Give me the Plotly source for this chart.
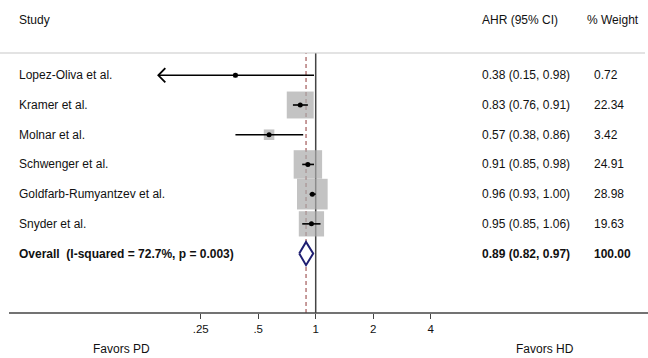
import math
import plotly.graph_objects as go

studies = ["Lopez-Oliva et al.", "Kramer et al.", "Molnar et al.", "Schwenger et al.",
           "Goldfarb-Rumyantzev et al.", "Snyder et al."]
ahr = [0.38, 0.83, 0.57, 0.91, 0.96, 0.95]
ci_lo = [0.15, 0.76, 0.38, 0.85, 0.93, 0.85]
ci_hi = [0.98, 0.91, 0.86, 0.98, 1.00, 1.06]
weights = [0.72, 22.34, 3.42, 24.91, 28.98, 19.63]
overall_label = "Overall  (I-squared = 72.7%, p = 0.003)"
overall_est, overall_lo, overall_hi = 0.89, 0.82, 0.97
overall_weight = 100.00
tick_vals = [0.25, 0.5, 1, 2, 4]
tick_text = [".25", ".5", "1", "2", "4"]
arrow_left = [True, False, False, False, False, False]
headers = ["Study", "AHR (95% CI)", "% Weight"]
favors = ["Favors PD", "Favors HD"]

W, H = 648, 358
FONT = "Liberation Sans, Arial, sans-serif"
TOP, BOT = 53, 45
PLOT_H = H - TOP - BOT
rows = list(range(len(studies)))
overall_row = len(studies)

def py(pix):  # page pixel y -> paper y
    return (H - BOT - pix) / PLOT_H

fig = go.Figure()

# boxes (area proportional to weight)
fig.add_trace(go.Scatter(
    x=ahr, y=rows, mode="markers",
    marker=dict(symbol="square", size=[5.7 * math.sqrt(w) for w in weights],
                color="#a9a9a9", line=dict(width=0)),
    hoverinfo="skip", showlegend=False))

# CI lines
cx, cy = [], []
for i in rows:
    cx += [ci_lo[i], ci_hi[i], None]
    cy += [i, i, None]
fig.add_trace(go.Scatter(x=cx, y=cy, mode="lines", line=dict(color="black", width=1.6),
                         hoverinfo="skip", showlegend=False))

# arrows for CIs clipped at left
ax_, ay_ = [], []
for i in rows:
    if arrow_left[i]:
        f = 2 ** (7 / 57.5)
        ax_ += [ci_lo[i] * f, ci_lo[i], ci_lo[i] * f, None]
        ay_ += [i - 0.24, i, i + 0.24, None]
fig.add_trace(go.Scatter(x=ax_, y=ay_, mode="lines", line=dict(color="black", width=1.8),
                         hoverinfo="skip", showlegend=False))

# point estimates
fig.add_trace(go.Scatter(x=ahr, y=rows, mode="markers",
                         marker=dict(symbol="circle", size=5, color="black"),
                         hoverinfo="skip", showlegend=False))

# overall diamond
dh = 0.39
fig.add_trace(go.Scatter(
    x=[overall_lo, overall_est, overall_hi, overall_est, overall_lo],
    y=[overall_row, overall_row - dh, overall_row, overall_row + dh, overall_row],
    mode="lines", fill="toself", fillcolor="white",
    line=dict(color="#1f1f72", width=2), hoverinfo="skip", showlegend=False))

shapes = [
    dict(type="line", xref="x", yref="paper", x0=1, x1=1, y0=0, y1=1,
         line=dict(color="#444444", width=1.5), layer="below"),
    dict(type="line", xref="x", yref="paper", x0=overall_est, x1=overall_est, y0=0, y1=1,
         line=dict(color="#9a4a4a", width=1.1, dash="4px,3px"), layer="below"),
    dict(type="line", xref="paper", yref="paper", x0=0, x1=645 / W, y0=1, y1=1,
         line=dict(color="#c8c8c8", width=1.2)),
    dict(type="line", xref="paper", yref="paper", x0=9 / W, x1=1, y0=0, y1=0,
         line=dict(color="#444444", width=1.3)),
]

ann = []
def txt(x, y, s, bold=False, size=12, yref="y", xanchor="left"):
    ann.append(dict(x=x, y=y, xref="paper", yref=yref, text=f"<b>{s}</b>" if bold else s,
                    showarrow=False, xanchor=xanchor, yanchor="middle",
                    font=dict(family=FONT, size=size, color="#111111")))

for i in rows:
    txt(17 / W, i, studies[i])
    txt(480 / W, i, f"{ahr[i]:.2f} ({ci_lo[i]:.2f}, {ci_hi[i]:.2f})")
    txt(592 / W, i, f"{weights[i]:.2f}")
txt(17 / W, overall_row, overall_label, bold=True)
txt(480 / W, overall_row, f"{overall_est:.2f} ({overall_lo:.2f}, {overall_hi:.2f})", bold=True)
txt(592 / W, overall_row, f"{overall_weight:.2f}", bold=True)
txt(17 / W, py(20), headers[0], yref="paper")
txt(480 / W, py(20), headers[1], yref="paper")
txt(585 / W, py(20), headers[2], yref="paper")
txt(121 / W, py(349), favors[0], yref="paper", xanchor="center")
txt(545 / W, py(349), favors[1], yref="paper", xanchor="center")

ppu = 57.5  # px per log2 unit
x_at_1 = 315.7
lo_r = math.log10(2) * (0 - x_at_1) / ppu
hi_r = math.log10(2) * (W - x_at_1) / ppu

fig.update_layout(
    width=W, height=H,
    margin=dict(l=0, r=0, t=TOP, b=BOT),
    paper_bgcolor="white", plot_bgcolor="white",
    shapes=shapes, annotations=ann,
    xaxis=dict(type="log", range=[lo_r, hi_r], tickvals=tick_vals, ticktext=tick_text,
               ticks="outside", ticklen=5, tickcolor="#444444", showgrid=False,
               zeroline=False, showline=False,
               tickfont=dict(family=FONT, size=11.5, color="#111111")),
    yaxis=dict(range=[8, -0.75], showgrid=False, zeroline=False, showticklabels=False,
               showline=False),
)

fig.write_html("out.html", config={"displayModeBar": False},
               post_script="document.body.style.margin='0';document.body.style.overflow='hidden';")
